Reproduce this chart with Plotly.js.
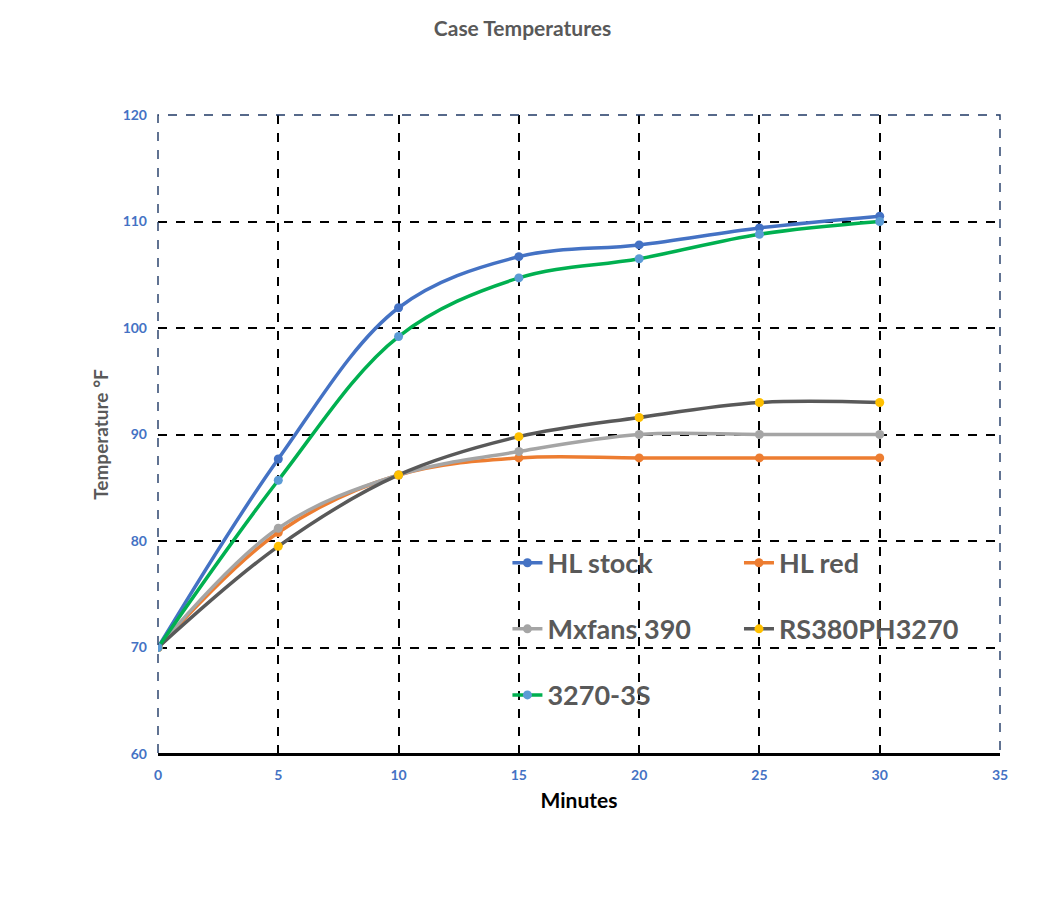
<!DOCTYPE html>
<html>
<head>
<meta charset="utf-8">
<script src="https://cdn.plot.ly/plotly-3.0.1.min.js"></script>
<style>
  body { margin: 0; background: #fff; }
  #chart { width: 1045px; height: 900px; }
</style>
</head>
<body>
<div id="chart"></div>
<script>
// minutes at which each reading was taken
var minutes = [0, 5, 10, 15, 20, 25, 30];

// case temperatures, deg F
var hlStock   = [70, 87.7, 101.9, 106.7, 107.8, 109.4, 110.5];
var hlRed     = [70, 80.8, 86.2, 87.8, 87.8, 87.8, 87.8];
var mxfans390 = [70, 81.2, 86.2, 88.4, 90.0, 90.0, 90.0];
var rs380     = [70, 79.5, 86.2, 89.8, 91.6, 93.0, 93.0];
var s3270     = [70, 85.7, 99.2, 104.7, 106.5, 108.8, 110.0];

var seriesNames = ['HL stock', 'HL red', 'Mxfans 390', 'RS380PH3270', '3270-3S'];

function makeTrace(name, y, lineColor, markerColor, legendId)
{
    return {
        x: minutes,
        y: y,
        name: name,
        type: 'scatter',
        mode: 'lines+markers',
        line: {color: lineColor, width: 3.5, shape: 'spline', smoothing: 1},
        marker: {color: markerColor, size: 9},
        legend: legendId,
        legendgroup: name
    };
}

var traces = [
    makeTrace(seriesNames[0], hlStock, '#4472C4', '#4472C4', 'legend'),
    makeTrace(seriesNames[1], hlRed, '#ED7D31', '#ED7D31', 'legend2'),
    makeTrace(seriesNames[2], mxfans390, '#A5A5A5', '#A5A5A5', 'legend'),
    makeTrace(seriesNames[3], rs380, '#595959', '#FFC000', 'legend2'),
    makeTrace(seriesNames[4], s3270, '#00B050', '#5B9BD5', 'legend')
];

var fam = 'Lato, "Open Sans", sans-serif';
var tickFont = {family: fam, size: 14, color: '#4472C4', weight: 'bold'};
var legendFont = {family: fam, size: 27, color: '#595959', weight: 'bold'};

var layout = {
    width: 1045,
    height: 900,
    paper_bgcolor: '#fff',
    plot_bgcolor: '#fff',
    margin: {l: 158, r: 45, t: 115, b: 146},
    title: {
        text: 'Case Temperatures',
        x: 0.5, xref: 'container',
        y: 0.968, yref: 'container', yanchor: 'middle',
        font: {family: fam, size: 21, color: '#595959', weight: 'bold'}
    },
    xaxis: {
        range: [0, 35],
        dtick: 5,
        tick0: 0,
        showgrid: true,
        gridcolor: '#000',
        gridwidth: 2,
        griddash: 'dash',
        zeroline: false,
        showline: true,
        linecolor: '#000',
        linewidth: 2,
        ticks: '',
        ticklabelstandoff: 7,
        tickfont: tickFont,
        title: {text: 'Minutes', standoff: 12,
                font: {family: fam, size: 21, color: '#000', weight: 'bold'}}
    },
    yaxis: {
        range: [60, 120],
        dtick: 10,
        showgrid: true,
        gridcolor: '#000',
        gridwidth: 2,
        griddash: 'dash',
        zeroline: false,
        showline: false,
        ticks: '',
        ticklabelstandoff: 10,
        tickfont: tickFont,
        title: {text: 'Temperature °F', standoff: 8,
                font: {family: fam, size: 19, color: '#595959', weight: 'bold'}}
    },
    shapes: [
        {type: 'rect', xref: 'paper', yref: 'paper', x0: 0, x1: 1, y0: 0, y1: 1,
         line: {color: '#1F3864', width: 1.4, dash: 'dash'}, layer: 'above'},
        {type: 'line', xref: 'paper', yref: 'paper', x0: 0, x1: 1, y0: 0, y1: 0,
         line: {color: '#000', width: 2}, layer: 'above'}
    ],
    legend: {
        x: 0.415, y: 0.337, xanchor: 'left', yanchor: 'top',
        bgcolor: 'rgba(0,0,0,0)',
        font: legendFont,
        tracegroupgap: 28,
        itemwidth: 30
    },
    legend2: {
        x: 0.69, y: 0.337, xanchor: 'left', yanchor: 'top',
        bgcolor: 'rgba(0,0,0,0)',
        font: legendFont,
        tracegroupgap: 28,
        itemwidth: 30
    },
    showlegend: true
};

Plotly.newPlot('chart', traces, layout, {displayModeBar: false, staticPlot: true});
</script>
</body>
</html>
